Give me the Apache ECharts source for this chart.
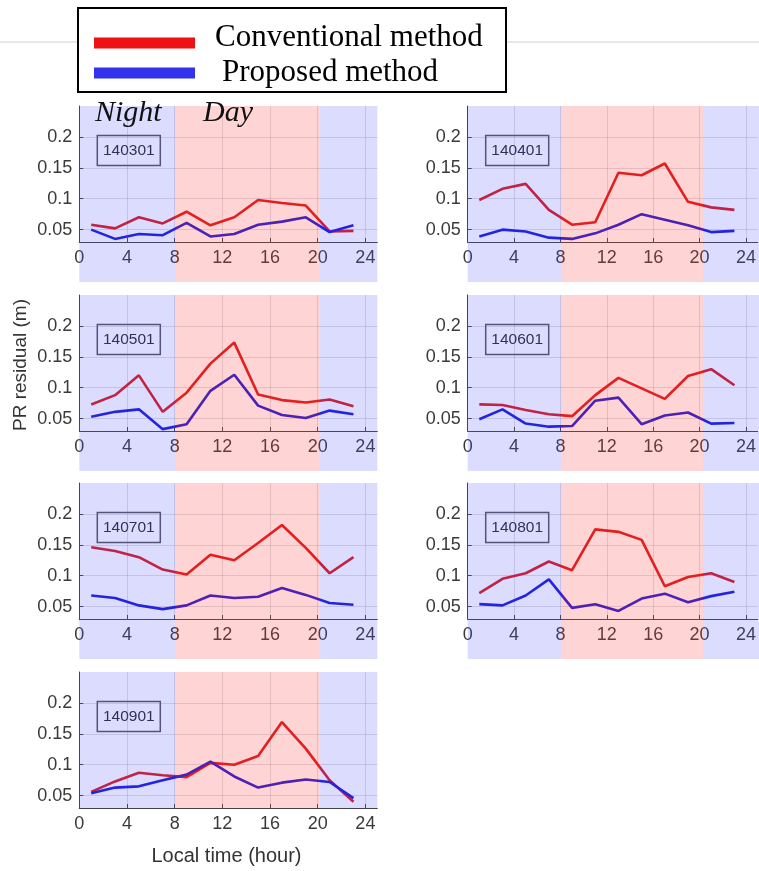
<!DOCTYPE html>
<html><head><meta charset="utf-8">
<script src="https://cdn.jsdelivr.net/npm/echarts@6/dist/echarts.min.js"></script>
<style>html,body{margin:0;padding:0;background:#fff}#c{width:759px;height:871px}</style>
</head><body><div id="c"></div>
<script>
// ---- data ----
const hours = [1, 3, 5, 7, 9, 11, 13, 15, 17, 19, 21, 23];
const panelNames = ['140301', '140401', '140501', '140601', '140701', '140801', '140901'];
const conv140301 = [0.058, 0.052, 0.070, 0.060, 0.079, 0.057, 0.070, 0.098, 0.093, 0.089, 0.047, 0.048];
const prop140301 = [0.050, 0.035, 0.043, 0.041, 0.061, 0.039, 0.043, 0.058, 0.063, 0.070, 0.046, 0.057];
const conv140401 = [0.098, 0.116, 0.124, 0.082, 0.058, 0.062, 0.142, 0.138, 0.157, 0.095, 0.086, 0.082];
const prop140401 = [0.039, 0.050, 0.047, 0.037, 0.035, 0.044, 0.058, 0.075, 0.066, 0.057, 0.046, 0.048];
const conv140501 = [0.073, 0.088, 0.120, 0.061, 0.092, 0.139, 0.173, 0.089, 0.080, 0.076, 0.081, 0.070];
const prop140501 = [0.053, 0.061, 0.065, 0.033, 0.041, 0.095, 0.121, 0.071, 0.056, 0.051, 0.063, 0.057];
const conv140601 = [0.073, 0.072, 0.064, 0.057, 0.054, 0.088, 0.116, 0.099, 0.082, 0.119, 0.130, 0.104];
const prop140601 = [0.049, 0.065, 0.042, 0.037, 0.038, 0.079, 0.084, 0.041, 0.055, 0.060, 0.042, 0.043];
const conv140701 = [0.146, 0.140, 0.130, 0.110, 0.102, 0.134, 0.125, 0.153, 0.182, 0.145, 0.104, 0.130];
const prop140701 = [0.068, 0.064, 0.052, 0.046, 0.052, 0.068, 0.064, 0.066, 0.080, 0.069, 0.056, 0.053];
const conv140801 = [0.072, 0.095, 0.104, 0.123, 0.109, 0.175, 0.171, 0.158, 0.083, 0.098, 0.104, 0.090];
const prop140801 = [0.054, 0.052, 0.068, 0.094, 0.048, 0.054, 0.043, 0.063, 0.071, 0.057, 0.067, 0.074];
const conv140901 = [0.056, 0.073, 0.087, 0.083, 0.080, 0.103, 0.100, 0.114, 0.169, 0.126, 0.075, 0.040];
const prop140901 = [0.054, 0.063, 0.065, 0.075, 0.084, 0.105, 0.081, 0.063, 0.071, 0.076, 0.072, 0.046];
const xTicks = [0, 4, 8, 12, 16, 20, 24];
const yTicks = [0.05, 0.1, 0.15, 0.2];
const bandEdges = [0, 8.1, 20.2, 25];   // night | day | night
const legendNames = ['Conventional method', 'Proposed method'];

const convAll = [conv140301, conv140401, conv140501, conv140601, conv140701, conv140801, conv140901];
const propAll = [prop140301, prop140401, prop140501, prop140601, prop140701, prop140801, prop140901];

// ---- layout ----
const colLeft = [79.3, 467.7], colWidth = [298, 296];
const rowTop = [106, 295, 483, 672], gridH = 136;
const bandExt = [40, 40, 40, 0];
const RED = '#dc1818', BLUE = '#1a1ad8';
const NIGHT = 'rgba(80,80,255,0.20)', DAY = 'rgba(255,60,60,0.22)';
const tickFont = 'Liberation Sans, Arial, sans-serif';

const grid = [], xAxis = [], yAxis = [], series = [], graphic = [];
const bands = [];
for (let b = 0; b < bandEdges.length - 1; b++) bands.push([bandEdges[b], bandEdges[b + 1], b === 1 ? 1 : 0]);

panelNames.forEach((name, i) => {
  const col = i % 2, row = Math.floor(i / 2);
  const L = colLeft[col], W = colWidth[col], T = rowTop[row];
  grid.push({left: L, top: T, width: W, height: gridH});
  grid.push({left: L, top: T, width: W, height: gridH + bandExt[row]});
  const gi = 2 * i;
  xAxis.push({
    type: 'value', gridIndex: gi, min: 0, max: 25,
    axisLine: {show: true, lineStyle: {color: '#444', width: 1}},
    axisTick: {show: true, inside: true, length: 4, customValues: xTicks, lineStyle: {color: '#444'}},
    axisLabel: {customValues: xTicks, color: '#3a3a3a', fontSize: 18, fontFamily: tickFont, margin: 7},
    splitLine: {show: true, lineStyle: {color: 'rgba(110,110,130,0.22)', width: 1}}
  });
  xAxis.push({type: 'value', gridIndex: gi + 1, min: 0, max: 25, show: false});
  yAxis.push({
    type: 'value', gridIndex: gi, min: 0.03, max: 0.25,
    axisLine: {show: true, lineStyle: {color: '#444', width: 1}},
    axisTick: {show: true, inside: true, length: 4, customValues: yTicks, lineStyle: {color: '#444'}},
    axisLabel: {customValues: yTicks, color: '#3a3a3a', fontSize: 18, fontFamily: tickFont, margin: 7},
    splitLine: {show: true, lineStyle: {color: 'rgba(110,110,130,0.22)', width: 1}}
  });
  yAxis.push({type: 'value', gridIndex: gi + 1, min: 0, max: 1, show: false});

  series.push({
    name: legendNames[0], type: 'line', xAxisIndex: gi, yAxisIndex: gi,
    data: hours.map((h, k) => [h, convAll[i][k]]),
    showSymbol: false, lineStyle: {color: RED, width: 2.6}, z: 3
  });
  series.push({
    name: legendNames[1], type: 'line', xAxisIndex: gi, yAxisIndex: gi,
    data: hours.map((h, k) => [h, propAll[i][k]]),
    showSymbol: false, lineStyle: {color: BLUE, width: 2.6}, z: 3
  });
  series.push({
    type: 'custom', xAxisIndex: gi + 1, yAxisIndex: gi + 1, z: 10, silent: true,
    data: bands,
    renderItem: (params, api) => {
      const p0 = api.coord([api.value(0), 1]);
      const p1 = api.coord([api.value(1), 0]);
      return {type: 'rect', shape: {x: p0[0], y: p0[1], width: p1[0] - p0[0], height: p1[1] - p0[1]},
              style: {fill: api.value(2) === 1 ? DAY : NIGHT}};
    }
  });

  graphic.push({
    type: 'group', x: L + 18, y: T + 29.5, z: 20,
    children: [
      {type: 'rect', shape: {x: 0, y: 0, width: 63, height: 30},
       style: {fill: 'rgba(255,255,255,0.35)', stroke: '#555', lineWidth: 1.5}},
      {type: 'text', x: 31.5, y: 15.5,
       style: {text: name, align: 'center', verticalAlign: 'middle', fill: '#2a2a2a', font: '15.5px ' + tickFont}}
    ]
  });
});

graphic.push({type: 'line', shape: {x1: 0, y1: 42, x2: 759, y2: 42}, style: {stroke: '#d0d0d0', lineWidth: 1}, z: 1});
graphic.push({type: 'rect', shape: {x: 78, y: 8, width: 428, height: 84}, style: {fill: '#fff', stroke: '#000', lineWidth: 2}, z: 30});
graphic.push({type: 'rect', shape: {x: 94, y: 37.5, width: 101, height: 11}, style: {fill: '#ee1111'}, z: 31});
graphic.push({type: 'rect', shape: {x: 94, y: 67.5, width: 101, height: 11}, style: {fill: '#3333ee'}, z: 31});
graphic.push({type: 'text', x: 215, y: 38, z: 31,
  style: {text: legendNames[0], align: 'left', verticalAlign: 'middle', fill: '#000', font: '31px "Liberation Serif", serif'}});
graphic.push({type: 'text', x: 222, y: 73, z: 31,
  style: {text: legendNames[1], align: 'left', verticalAlign: 'middle', fill: '#000', font: '31px "Liberation Serif", serif'}});
graphic.push({type: 'text', x: 95, y: 113, z: 40,
  style: {text: 'Night', align: 'left', verticalAlign: 'middle', fill: '#111', font: 'italic 30px "Liberation Serif", serif'}});
graphic.push({type: 'text', x: 203, y: 113, z: 40,
  style: {text: 'Day', align: 'left', verticalAlign: 'middle', fill: '#111', font: 'italic 30px "Liberation Serif", serif'}});
graphic.push({type: 'text', x: 21, y: 365, rotation: Math.PI / 2, z: 40,
  style: {text: 'PR residual (m)', align: 'center', verticalAlign: 'middle', fill: '#333', font: '19px ' + tickFont}});
graphic.push({type: 'text', x: 226.5, y: 856, z: 40,
  style: {text: 'Local time (hour)', align: 'center', verticalAlign: 'middle', fill: '#333', font: '20px ' + tickFont}});

const chart = echarts.init(document.getElementById('c'), null, {renderer: 'canvas'});
chart.setOption({
  animation: false,
  backgroundColor: '#fff',
  grid, xAxis, yAxis, series, graphic
});
</script>
</body></html>
